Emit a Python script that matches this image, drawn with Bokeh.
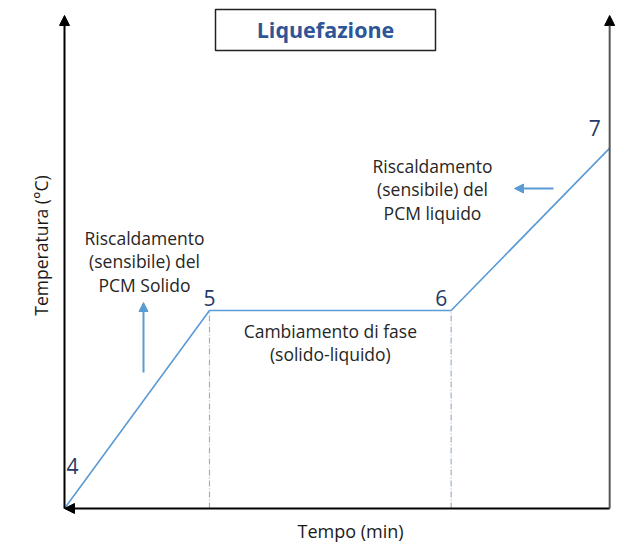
from bokeh.plotting import figure
from bokeh.models import Range1d, Label, Arrow, NormalHead, ColumnDataSource
from bokeh.embed import file_html
from bokeh.resources import INLINE
import math

# ---- data ----
points = ["4", "5", "6", "7"]
time_min = [0.0, 3.0, 8.0, 11.28]
temp_c = [0.0, 10.0, 10.0, 18.2]
t_axis_max = 11.28
T_axis_max = 24.9
title = "Liquefazione"
x_label = "Tempo (min)"
y_label = "Temperatura (°C)"
txt_solid = ["Riscaldamento", "(sensibile) del", "PCM Solido"]
txt_liquid = ["Riscaldamento", "(sensibile) del", "PCM liquido"]
txt_phase = ["Cambiamento di fase", "(solido-liquido)"]

# ---- layout helpers (pixel -> data) ----
X0, PX_T = 64.0, 48.33
Y0, PX_Y = 508.0, 19.8
def tx(px):
    return (px - X0) / PX_T
def ty(py):
    return (Y0 - py) / PX_Y

W, H = 623, 545
p = figure(width=W, height=H, output_backend="svg", toolbar_location=None,
           x_range=Range1d(tx(0), tx(W)), y_range=Range1d(ty(H), ty(0)),
           min_border=0)
p.axis.visible = False
p.grid.visible = False
p.outline_line_color = None
p.background_fill_color = "white"

FONT = "Open Sans"
TXT = "#262626"
NUM = "#253A66"

# dashed verticals at phase change
p.segment(x0=[time_min[1], time_min[2]], y0=[0, 0],
          x1=[time_min[1], time_min[2]], y1=[temp_c[1], temp_c[2]],
          line_color="#9DB0C8", line_width=1.2, line_dash="6 2 1 2")

# curve
src = ColumnDataSource(dict(t=time_min, T=temp_c))
p.line("t", "T", source=src, line_color="#5B9BD5", line_width=1.6)

# axes
p.add_layout(Arrow(end=NormalHead(size=10, fill_color="black", line_color="black"),
                   x_start=0, y_start=0, x_end=0, y_end=T_axis_max,
                   line_color="black", line_width=2))
p.add_layout(Arrow(end=NormalHead(size=10, fill_color="black", line_color="black"),
                   x_start=t_axis_max, y_start=0, x_end=0, y_end=0,
                   line_color="black", line_width=2))
p.add_layout(Arrow(end=NormalHead(size=10, fill_color="black", line_color="black"),
                   x_start=t_axis_max, y_start=0, x_end=t_axis_max, y_end=T_axis_max,
                   line_color="#555555", line_width=2))

# point labels
offs = [(8, 43), (0, 13), (-10, 13), (-15, 20)]
for name, t, T, (dx, dy) in zip(points, time_min, temp_c, offs):
    p.add_layout(Label(x=t, y=T, x_offset=dx, y_offset=dy, text=name,
                       text_font=FONT, text_font_size="21px", text_color=NUM,
                       text_align="center", text_baseline="middle"))

def block(lines, xc, ytop, step, size="17.5px"):
    for i, s in enumerate(lines):
        p.add_layout(Label(x=xc, y=ytop, y_offset=-i * step, text=s,
                           text_font=FONT, text_font_size=size, text_color=TXT,
                           text_align="center", text_baseline="middle"))

block(txt_solid, tx(144), ty(237), 23.5)
block(txt_liquid, tx(432), ty(165), 23.5)
block(txt_phase, (time_min[1] + time_min[2]) / 2, ty(330), 23)

# blue annotation arrows
p.add_layout(Arrow(end=NormalHead(size=9, fill_color="#5B9BD5", line_color="#5B9BD5"),
                   x_start=tx(143), y_start=ty(372), x_end=tx(143), y_end=ty(302),
                   line_color="#5B9BD5", line_width=2))
p.add_layout(Arrow(end=NormalHead(size=9, fill_color="#5B9BD5", line_color="#5B9BD5"),
                   x_start=tx(553), y_start=ty(188), x_end=tx(514), y_end=ty(188),
                   line_color="#5B9BD5", line_width=2))

# title box
p.quad(left=[tx(215)], right=[tx(435)], top=[ty(9)], bottom=[ty(50)],
       fill_color="white", line_color="#222222", line_width=1.5)
p.add_layout(Label(x=tx(325), y=ty(29), text=title, text_font=FONT,
                   text_font_size="21.5px", text_font_style="bold", text_color="#2F5597",
                   text_align="center", text_baseline="middle"))

# axis titles
p.add_layout(Label(x=tx(350), y=ty(530), text=x_label, text_font=FONT,
                   text_font_size="18px", text_color="#1A1A1A",
                   text_align="center", text_baseline="middle"))
p.add_layout(Label(x=tx(40), y=ty(245), text=y_label, text_font=FONT, angle=math.pi / 2,
                   text_font_size="17.5px", text_color="#1A1A1A",
                   text_align="center", text_baseline="middle"))

open("out.html", "w").write(file_html(p, INLINE))
